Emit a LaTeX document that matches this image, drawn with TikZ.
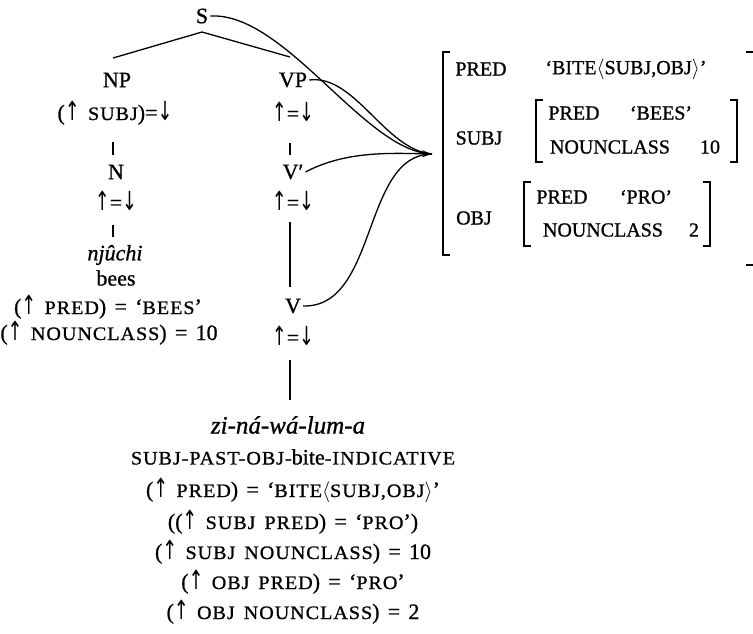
\documentclass[tikz,border=0pt]{standalone}
\usepackage{fontspec}
\usepackage{graphicx}
\setmainfont{Liberation Serif}[WordSpace=1.5,FakeBold=0.9]
\newfontfamily\scf{Liberation Serif}[WordSpace=1.5,FakeStretch=1.06,LetterSpace=5,FakeBold=0.9]
\newfontfamily\arf{DejaVu Sans}
\usetikzlibrary{arrows.meta}
\newcommand\smc[1]{{\scf\fontsize{19}{19}\selectfont #1}}
\newcommand\upa{\scalebox{1.05}[1.55]{\arf\fontsize{17}{17}\selectfont ↑}}
\newcommand\dna{\scalebox{1.05}[1.55]{\arf\fontsize{17}{17}\selectfont ↓}}
\newcommand\eqs{{\fontsize{22}{22}\selectfont =}}
\begin{document}
\begin{tikzpicture}[x=1pt,y=-1pt,
  lbl/.style={inner sep=0pt,font=\fontsize{22}{24}\selectfont},
  av/.style={inner sep=0pt,font=\fontsize{20}{22}\selectfont},
  edge/.style={line width=1.3pt},
  brk/.style={line width=1.7pt},
  fmap/.style={line width=1.3pt}]
\useasboundingbox (0,0) rectangle (753,633);
% left column
\node[lbl] (S) at (202,16) {S};
\node[lbl] (NP) at (117,80) {NP};
\node[lbl,anchor=base] (NPa) at (115,120) {(\upa\ \smc{SUBJ})\eqs\dna};
\node[lbl] (N) at (116,172) {N};
\node[lbl,anchor=base] (Na) at (116,210) {\upa\eqs\dna};
\node[lbl] (nj) at (115,255) {\itshape njûchi};
\node[lbl] (bees) at (116,278) {bees};
\node[lbl,anchor=base] (npred) at (108,314) {(\upa\ \smc{PRED}) = ‘\smc{BEES}’};
\node[lbl,anchor=base] (ncl) at (109,340) {(\upa\ \smc{NOUNCLASS}) = 10};
% right column
\node[lbl] (VP) at (293,80) {VP};
\node[lbl,anchor=base] (VPa) at (293,121) {\upa\eqs\dna};
\node[lbl] (Vb) at (293,172) {V′};
\node[lbl,anchor=base] (Vba) at (293,210) {\upa\eqs\dna};
\node[lbl] (V) at (293,306) {V};
\node[lbl,anchor=base] (Va) at (293,345) {\upa\eqs\dna};
\node[lbl,font=\fontsize{25}{26}\selectfont] (zi) at (288,425) {\itshape zi-ná-wá-lum-a};
\node[lbl] (gl) at (293,457) {\smc{SUBJ-PAST-OBJ-}bite\smc{-INDICATIVE}};
\node[lbl,anchor=base] (e1) at (293,497) {(\upa\ \smc{PRED}) = ‘\smc{BITE}$\langle$\smc{SUBJ,OBJ}$\rangle$’};
\node[lbl,anchor=base] (e2) at (293,529) {((\upa\ \smc{SUBJ PRED}) = ‘\smc{PRO}’)};
\node[lbl,anchor=base] (e3) at (293,559) {(\upa\ \smc{SUBJ NOUNCLASS}) = 10};
\node[lbl,anchor=base] (e4) at (293,589) {(\upa\ \smc{OBJ PRED}) = ‘\smc{PRO}’};
\node[lbl,anchor=base] (e5) at (293,619) {(\upa\ \smc{OBJ NOUNCLASS}) = 2};
% tree edges
\draw[edge] ([yshift=-16pt]S.center) -- ([shift={(-4pt,22pt)}]NP.center);
\draw[edge] ([yshift=-16pt]S.center) -- ([shift={(-3pt,23pt)}]VP.center);
\draw[edge] ([shift={(-2pt,-22pt)}]NPa.base) -- ([shift={(-3pt,17pt)}]N.center);
\draw[edge] ([shift={(-3pt,-22pt)}]VPa.base) -- ([shift={(-3pt,17pt)}]Vb.center);
\draw[edge] ([shift={(-3pt,-15pt)}]Na.base) -- ([shift={(-2pt,18pt)}]nj.center);
\draw[edge] ([shift={(-3pt,-12pt)}]Vba.base) -- ([shift={(-3pt,19pt)}]V.center);
\draw[edge] ([shift={(-3pt,-15pt)}]Va.base) -- ([shift={(2pt,25pt)}]zi.center);
% f-structure
\coordinate (fs) at (432,154);
\node[av] (p0) at (481,69) {PRED};
\node[av] (p0v) at (626,69) {‘BITE$\langle$SUBJ,OBJ$\rangle$’};
\node[av] (sj) at (479,138) {SUBJ};
\node[av] (sp) at (574,113) {PRED};
\node[av] (spv) at (661,113) {‘BEES’};
\node[av] (sn) at (610,147) {NOUNCLASS};
\node[av] (snv) at (710,147) {10};
\node[av] (oj) at (474,218) {OBJ};
\node[av] (op) at (562,197) {PRED};
\node[av] (opv) at (646,197) {‘PRO’};
\node[av] (on) at (603,230) {NOUNCLASS};
\node[av] (onv) at (694,230) {2};
% brackets
\draw[brk] (450,52) -- (443,52) -- (443,255) -- (450,255);
\draw[brk] (746,52) -- (753,52);
\draw[brk] (746,265) -- (753,265);
\draw[brk] (543,100) -- (536,100) -- (536,162) -- (543,162);
\draw[brk] (730,100) -- (737,100) -- (737,162) -- (730,162);
\draw[brk] (531,182) -- (524,182) -- (524,246) -- (531,246);
\draw[brk] (703,182) -- (710,182) -- (710,246) -- (703,246);
% mapping curves
\draw[fmap] ([xshift=2pt]S.east) .. controls (285,12) and (365,152) .. (fs);
\draw[fmap] ([xshift=2pt]VP.east) .. controls (355,74) and (385,150) .. (fs);
\draw[fmap,-{Stealth[length=10pt,width=7pt]}] ([xshift=2pt]Vb.east) .. controls (345,151) and (390,153) .. (fs);
\draw[fmap] ([xshift=2pt]V.east) .. controls (378,308) and (362,154) .. (fs);
\end{tikzpicture}
\end{document}
